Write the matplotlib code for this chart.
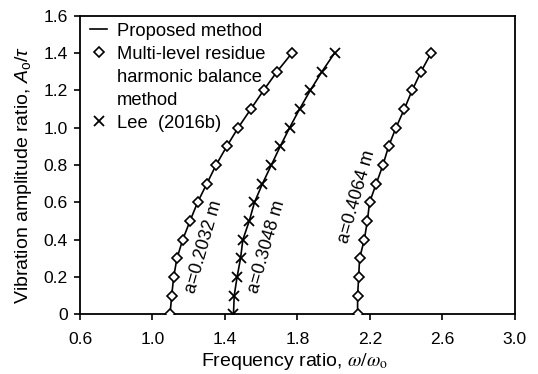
import matplotlib
matplotlib.use("Agg")
import matplotlib.pyplot as plt
from matplotlib.lines import Line2D

plt.rcParams['font.family'] = ['Liberation Sans', 'DejaVu Sans']
plt.rcParams['mathtext.fontset'] = 'custom'
plt.rcParams['mathtext.it'] = 'Liberation Sans:italic'
plt.rcParams['mathtext.rm'] = 'Liberation Sans'

# amplitude ratio values (shared by all curves)
amp = [0.0, 0.1, 0.2, 0.3, 0.4, 0.5, 0.6, 0.7, 0.8, 0.9, 1.0, 1.1, 1.2, 1.3, 1.4]

# frequency ratio for a = 0.2032 m
freq_a1 = [1.097, 1.106, 1.117, 1.135, 1.167, 1.207, 1.249, 1.300, 1.351, 1.410,
           1.473, 1.543, 1.613, 1.687, 1.770]
# frequency ratio for a = 0.3048 m
freq_a2 = [1.447, 1.451, 1.467, 1.486, 1.499, 1.534, 1.563, 1.607, 1.656, 1.705,
           1.757, 1.812, 1.871, 1.935, 2.005]
# frequency ratio for a = 0.4064 m
freq_a3 = [2.132, 2.132, 2.138, 2.143, 2.169, 2.186, 2.198, 2.235, 2.272, 2.303,
           2.344, 2.390, 2.433, 2.482, 2.538]

labels = ["a=0.2032 m", "a=0.3048 m", "a=0.4064 m"]
label_pos = [(1.285, 0.36), (1.632, 0.36), (2.128, 0.63)]

xticks = [0.6, 1.0, 1.4, 1.8, 2.2, 2.6, 3.0]
yticks = [0, 0.2, 0.4, 0.6, 0.8, 1.0, 1.2, 1.4, 1.6]
yticklabels = ["0", "0.2", "0.4", "0.6", "0.8", "1.0", "1.2", "1.4", "1.6"]

fig = plt.figure(figsize=(5.38, 3.74), dpi=100)
ax = fig.add_axes([0.1487, 0.1596, 0.957 - 0.1487, 0.958 - 0.1596])

fs_tick = 12.6
fs_leg = 13.2
fs_lab = 14
fs_ann = 13
mk = dict(markerfacecolor='white', markeredgecolor='black', markeredgewidth=1.2)
dms = 5.2
xms = 7.5

ax.plot(freq_a1, amp, '-', color='black', lw=1.2, zorder=2)
ax.plot(freq_a2, amp, '-', color='black', lw=1.2, zorder=2)
ax.plot(freq_a3, amp, '-', color='black', lw=1.2, zorder=2)
ax.plot(freq_a1, amp, 'D', ms=dms, **mk, linestyle='none', zorder=3)
ax.plot(freq_a3, amp, 'D', ms=dms, **mk, linestyle='none', zorder=3)
ax.plot(freq_a2, amp, 'x', ms=xms, color='black', markeredgewidth=1.3, linestyle='none', zorder=3)

for lab, (x, y) in zip(labels, label_pos):
    ax.text(x, y, lab, rotation=74, ha='center', va='center', fontsize=fs_ann,
            rotation_mode='anchor')

ax.set_xlim(0.6, 3.0)
ax.set_ylim(0, 1.6)
ax.set_xticks(xticks)
ax.set_xticklabels([f"{v:.1f}" for v in xticks])
ax.set_yticks(yticks)
ax.set_yticklabels(yticklabels)
ax.tick_params(direction='out', length=4, width=1.2, labelsize=fs_tick, colors='black')
ax.tick_params(axis='x', pad=9)
ax.tick_params(axis='y', pad=5)
for s in ax.spines.values():
    s.set_linewidth(1.3)
    s.set_color('black')

ax.set_xlabel(r"Frequency ratio, $\omega/\omega_\mathrm{o}$", fontsize=fs_lab,
              math_fontfamily='stix', va='baseline')
ax.set_ylabel(r"Vibration amplitude ratio, $A_\mathrm{o}/\tau$", fontsize=fs_lab)
ax.xaxis.set_label_coords(0.494, -0.172)
ax.yaxis.set_label_coords(-0.106, 0.466)

h_line = Line2D([], [], color='black', lw=1.2)
h_dia = Line2D([], [], marker='D', ms=dms, linestyle='none', **mk)
h_x = Line2D([], [], marker='x', ms=xms, color='black', markeredgewidth=1.3, linestyle='none')
h_none = Line2D([], [], linestyle='none')
leg = ax.legend([h_line, h_dia, h_none, h_none, h_x],
                ["Proposed method", "Multi-level residue", "harmonic balance", "method",
                 "Lee  (2016b)"],
                loc='upper left', bbox_to_anchor=(0.023, 0.977), frameon=False,
                fontsize=fs_leg, handlelength=0.95, handletextpad=0.5,
                labelspacing=0.33, borderaxespad=0.0, borderpad=0.0)

fig.savefig("out.png", dpi=100)
